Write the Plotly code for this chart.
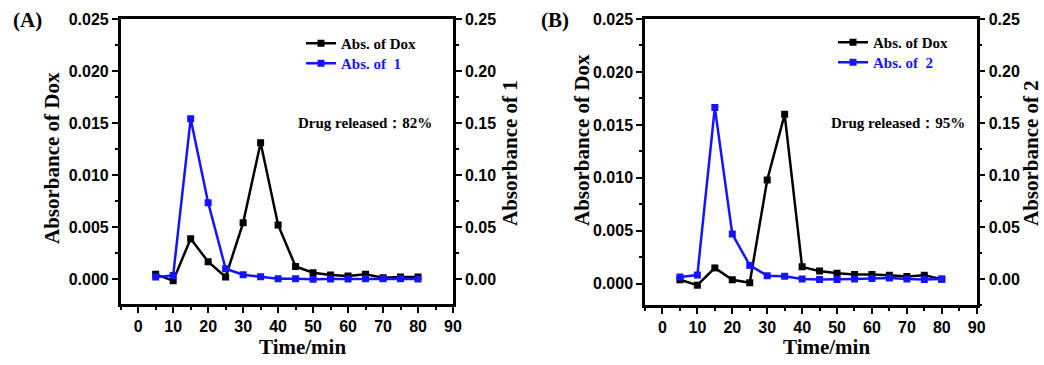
import plotly.graph_objects as go

# ---------------- data ----------------
time = [5, 10, 15, 20, 25, 30, 35, 40, 45, 50, 55, 60, 65, 70, 75, 80]

dox_A = [0.00045, -0.00016, 0.00388, 0.00167, 0.0002, 0.0054, 0.0131, 0.0052,
         0.0012, 0.0006, 0.0004, 0.0003, 0.00045, 0.00013, 0.0002, 0.0002]
comp1_A = [0.0019, 0.0035, 0.154, 0.0734, 0.0099, 0.0042, 0.0022, 0.0003,
           0.0003, -0.0003, 0.0, 0.0, 0.0003, 0.0003, 0.0003, 0.0]

dox_B = [0.00038, -0.00013, 0.0015, 0.00038, 0.0001, 0.0098, 0.0160, 0.0016,
         0.0012, 0.0010, 0.00088, 0.00088, 0.0008, 0.0007, 0.0008, 0.00044]
comp2_B = [0.0019, 0.0038, 0.1649, 0.0432, 0.0131, 0.0032, 0.0026, 0.0,
           -0.0006, -0.0006, 0.0, 0.0006, 0.001, 0.0, -0.0006, 0.0]

x_ticks = [0, 10, 20, 30, 40, 50, 60, 70, 80, 90]
panel_labels = ["(A)", "(B)"]
legend_names_A = ["Abs. of Dox", "Abs. of  1"]
legend_names_B = ["Abs. of Dox", "Abs. of  2"]
release_texts = ["Drug released：82%", "Drug released：95%"]
left_titles = ["Absorbance of Dox", "Absorbance of Dox"]
right_titles = ["Absorbance of 1", "Absorbance of 2"]
x_title = "Time/min"

# ---------------- style ----------------
W, H = 1044, 365
BLACK = "#000000"
BLUE = "#1414FF"
SANS = "Liberation Sans, Arial, sans-serif"
SERIF = "Liberation Serif, Times New Roman, serif"


def fx(p):
    return p / W


def fy(p):
    return 1 - p / H


fig = go.Figure()

def add_line(x, y, name, color, xa, ya, legend):
    fig.add_trace(go.Scatter(
        x=x, y=y, name=name, mode="lines+markers", showlegend=True,
        line=dict(color=color, width=2.5),
        marker=dict(symbol="square", size=7, color=color, line=dict(width=0)),
        xaxis=xa, yaxis=ya, legend=legend,
    ))

add_line(time, dox_A, legend_names_A[0], BLACK, "x", "y", "legend")
add_line(time, comp1_A, "<span style='color:%s'>%s</span>" % (BLUE, legend_names_A[1]), BLUE, "x", "y2", "legend2")
add_line(time, dox_B, legend_names_B[0], BLACK, "x2", "y3", "legend3")
add_line(time, comp2_B, "<span style='color:%s'>%s</span>" % (BLUE, legend_names_B[1]), BLUE, "x2", "y4", "legend4")

tickfont = dict(family=SANS, size=16, color=BLACK, weight="bold")

def xaxis_cfg(dom, anchor):
    return dict(
        domain=dom, anchor=anchor, range=[-5, 90], tickvals=x_ticks,
        ticks="outside", ticklen=6, tickwidth=2, tickcolor=BLACK,
        showline=True, linewidth=2.5, linecolor=BLACK, mirror=True,
        showgrid=False, zeroline=False, tickfont=tickfont, automargin=False,
        minor=dict(dtick=5, tick0=0, ticks="outside", ticklen=3, tickwidth=2, tickcolor=BLACK, showgrid=False),
        fixedrange=True,
    )

def yaxis_cfg(dom, anchor, rng, dtick, fmt, side="left", overlaying=None):
    d = dict(
        domain=dom, anchor=anchor, range=rng, dtick=dtick, tick0=0, tickformat=fmt,
        ticks="outside", ticklen=6, tickwidth=2, tickcolor=BLACK,
        showline=True, linewidth=2.5, linecolor=BLACK, automargin=False,
        showgrid=False, zeroline=False, tickfont=tickfont, side=side,
        minor=dict(dtick=dtick / 2, tick0=0, ticks="outside", ticklen=3, tickwidth=2, tickcolor=BLACK, showgrid=False),
        fixedrange=True,
    )
    if overlaying:
        d["overlaying"] = overlaying
    return d

def legend_cfg(xp, yp):
    return dict(x=fx(xp), y=fy(yp), xanchor="left", yanchor="top",
                bgcolor="rgba(0,0,0,0)", tracegroupgap=0, visible=True,
                font=dict(family=SERIF, size=15, color=BLACK, weight="bold"))

domA = [fx(120.7), fx(453)]
domB = [fx(645), fx(976.7)]

fig.update_layout(
    width=W, height=H, showlegend=True,
    margin=dict(l=0, r=0, t=0, b=0, autoexpand=False),
    paper_bgcolor="white", plot_bgcolor="white",
    xaxis=xaxis_cfg(domA, "y"),
    yaxis=yaxis_cfg([fy(304), fy(19)], "x", [-0.0024, 0.025], 0.005, ".3f"),
    yaxis2=yaxis_cfg([fy(304), fy(19)], "x", [-0.024, 0.25], 0.05, ".2f", side="right", overlaying="y"),
    xaxis2=xaxis_cfg(domB, "y3"),
    yaxis3=yaxis_cfg([fy(305), fy(19)], "x2", [-0.002, 0.025], 0.005, ".3f"),
    yaxis4=yaxis_cfg([fy(305), fy(19)], "x2", [-0.025, 0.25], 0.05, ".2f", side="right", overlaying="y3"),
    legend=legend_cfg(301, 27),
    legend2=legend_cfg(301, 47),
    legend3=legend_cfg(833, 26),
    legend4=legend_cfg(833, 46),
)

ann = []
titlefont = dict(family=SERIF, size=21, color=BLACK, weight="bold")
# panel labels
for txt, xc in zip(panel_labels, [27, 555]):
    ann.append(dict(text=txt, x=fx(xc), y=fy(20), xref="paper", yref="paper",
                    showarrow=False, xanchor="center", yanchor="middle",
                    font=dict(family=SERIF, size=21, color=BLACK, weight="bold")))
# release texts
for txt, xc in zip(release_texts, [364.5, 897.5]):
    ann.append(dict(text=txt, x=fx(xc), y=fy(123), xref="paper", yref="paper",
                    showarrow=False, xanchor="center", yanchor="middle",
                    font=dict(family=SERIF, size=15, color=BLACK, weight="bold")))
# left titles
for txt, xc, yc in zip(left_titles, [52, 582], [158, 140]):
    ann.append(dict(text=txt, x=fx(xc), y=fy(yc), xref="paper", yref="paper",
                    showarrow=False, xanchor="center", yanchor="middle", textangle=-90,
                    font=titlefont))
# right titles
for txt, xc, yc in zip(right_titles, [510, 1031], [153, 153]):
    ann.append(dict(text=txt, x=fx(xc), y=fy(yc), xref="paper", yref="paper",
                    showarrow=False, xanchor="center", yanchor="middle", textangle=-90,
                    font=titlefont))
# x titles
for xc in [302, 826]:
    ann.append(dict(text=x_title, x=fx(xc), y=fy(347), xref="paper", yref="paper",
                    showarrow=False, xanchor="center", yanchor="middle",
                    font=titlefont))
fig.update_layout(annotations=ann)

fig.write_html("out.html", config={"displayModeBar": False},
               post_script="document.body.style.margin='0';document.body.style.padding='0';document.body.style.overflow='hidden';")
